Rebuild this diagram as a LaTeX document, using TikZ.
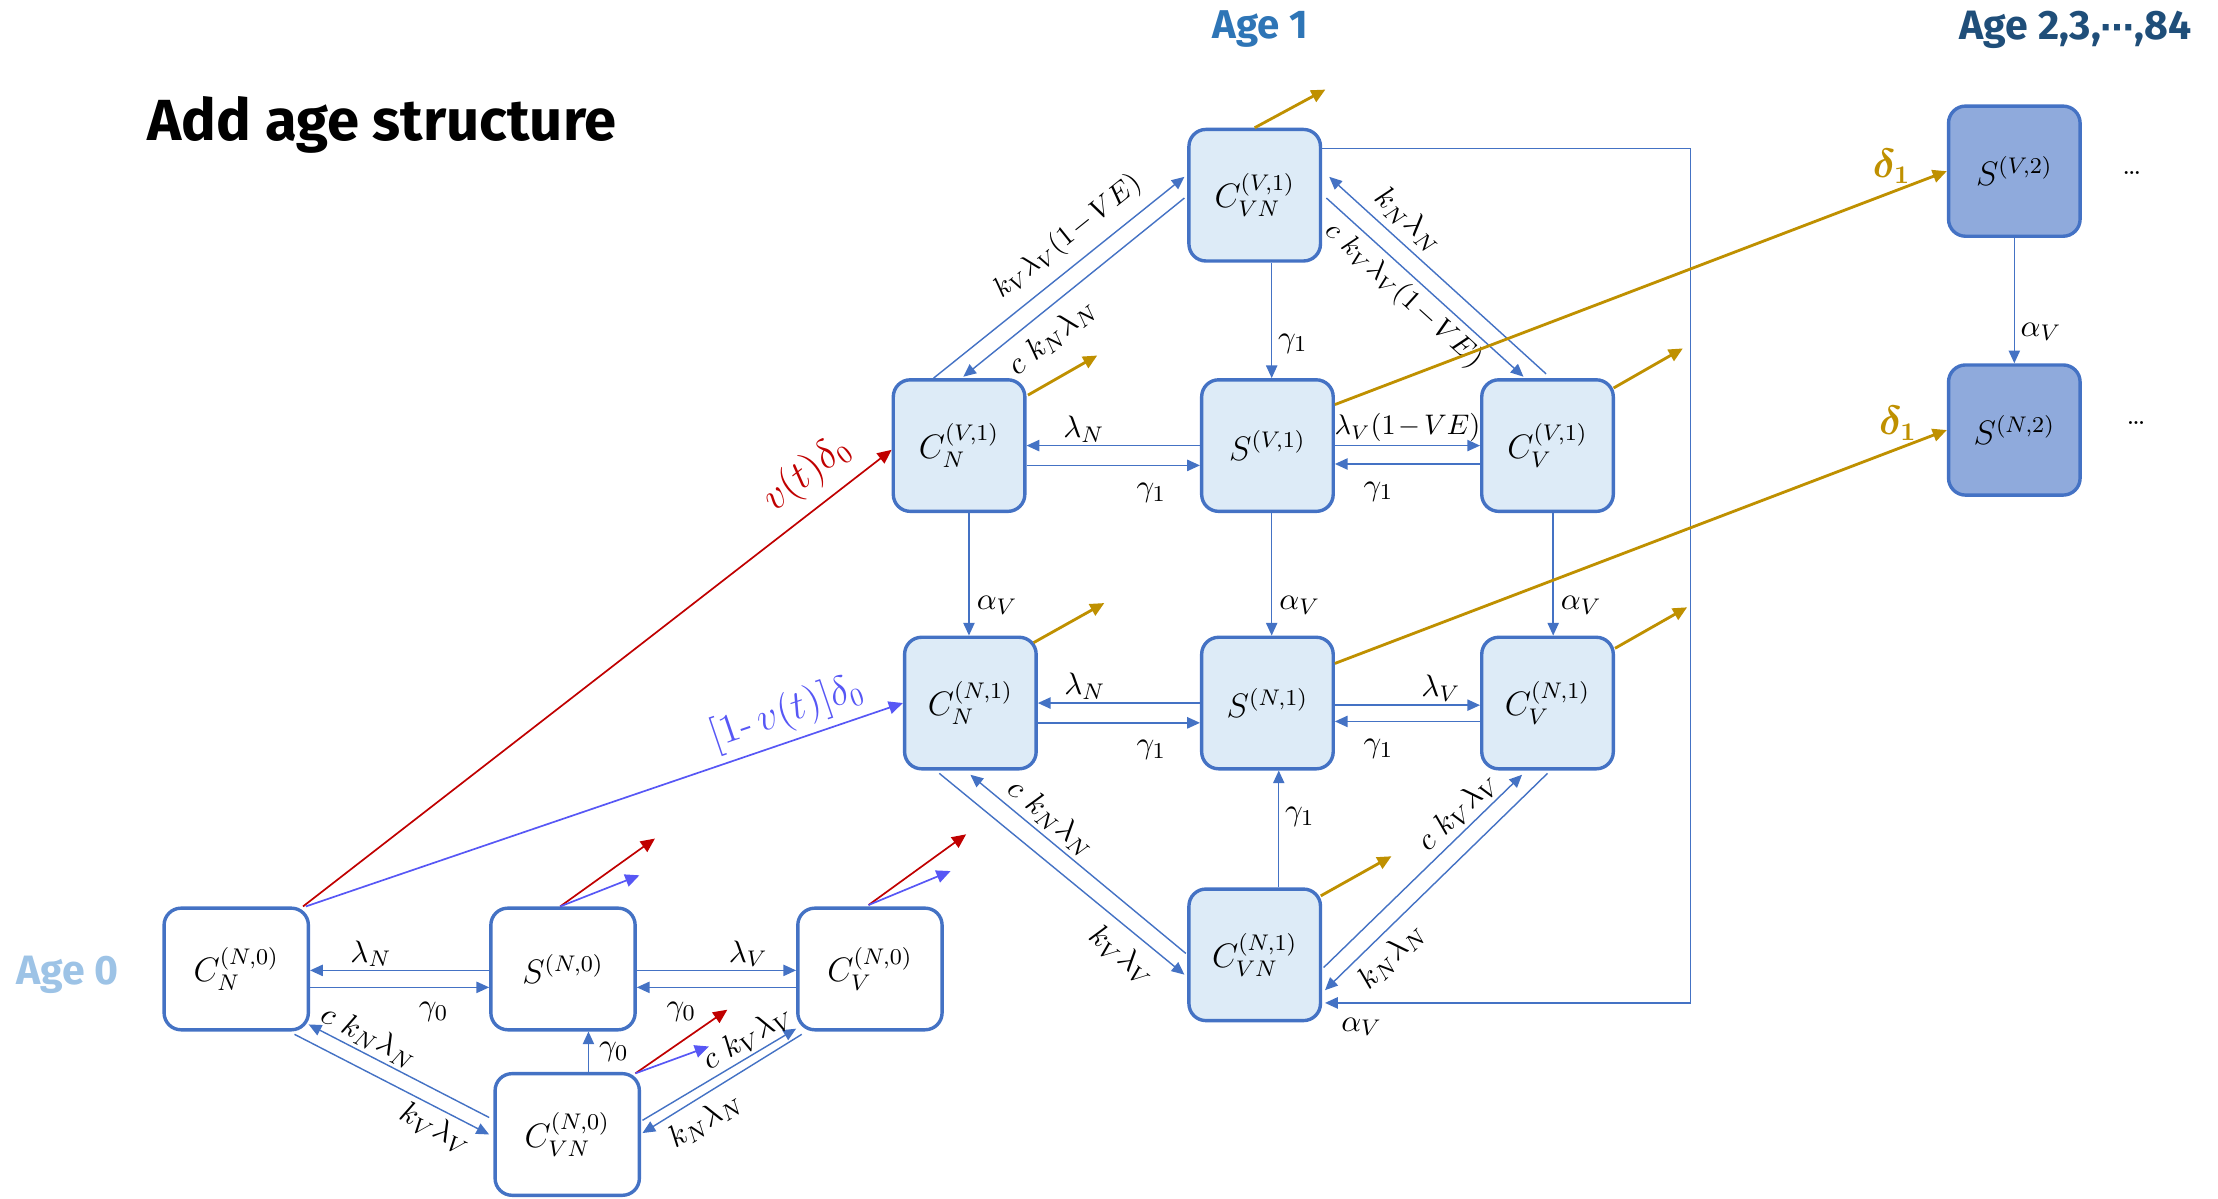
\documentclass[tikz,border=0pt]{standalone}
\usepackage{amsmath}
\usepackage{fontspec}
\newfontfamily\headfont{Fira Sans}
\newfontfamily\symfont{DejaVu Sans}
\usetikzlibrary{calc,arrows.meta}
\definecolor{bord}{HTML}{4472C4}
\definecolor{fillA}{HTML}{DDEBF7}
\definecolor{fillB}{HTML}{8FAADC}
\definecolor{gold}{HTML}{BF9000}
\definecolor{dred}{HTML}{C00000}
\definecolor{vblue}{HTML}{5757F5}
\definecolor{agezeroc}{HTML}{9DC3E6}
\definecolor{ageonec}{HTML}{2E75B6}
\definecolor{agetwoc}{HTML}{1F4E79}
\newcommand{\tmin}{\mkern-2mu-\mkern-2mu}
\begin{document}
\begin{tikzpicture}[x=0.5pt,y=-0.5pt,
  comp/.style={draw=bord, line width=1.2pt, rounded corners=6pt, minimum width=46.5pt, minimum height=46.5pt, inner sep=0pt, font=\fontsize{11.5}{13}\selectfont},
  agezero/.style={comp, fill=white, minimum width=51pt, minimum height=43pt},
  ageone/.style={comp, fill=fillA},
  agetwo/.style={comp, fill=fillB, minimum height=46pt},
  flow/.style={draw=bord, line width=0.5pt, -{Triangle[length=4.5pt,width=4pt]}},
  gflow/.style={draw=gold, line width=1pt, -{Triangle[length=5pt,width=4.5pt]}},
  rflow/.style={draw=dred, line width=0.6pt, -{Triangle[length=5pt,width=4.5pt]}},
  bflow/.style={draw=vblue, line width=0.6pt, -{Triangle[length=5pt,width=4.5pt]}},
  lab/.style={font=\fontsize{11}{12}\selectfont, inner sep=1pt},
  longlab/.style={font=\fontsize{10}{12}\selectfont, inner sep=1pt},
  biglab/.style={font=\fontsize{13.5}{15}\selectfont, inner sep=1pt},
  head/.style={anchor=base west, inner sep=0pt},
]
\useasboundingbox (0,0) rectangle (1568,847);

% titles
\node[head, font={\headfont\bfseries\fontsize{20.5}{24}\selectfont}] (title) at (104,99) {Add age structure};
\node[head, text=ageonec, font={\headfont\bfseries\fontsize{14.2}{16}\selectfont}] (ageone) at (857,27) {Age 1};
\node[head, text=agetwoc, font={\headfont\bfseries\fontsize{14.5}{17}\selectfont}] (agetwo) at (1385,28) {Age 2,3,{\symfont\bfseries\fontsize{12}{14}\selectfont ⋯},84};
\node[head, text=agezeroc, font={\headfont\bfseries\fontsize{14.5}{17}\selectfont}] (agezero) at (11,696) {Age 0};

% age 0 compartments
\node[agezero] (CN0) at (167,685) {$C_N^{(N,0)}$};
\node[agezero] (S0) at (398,685) {$S^{(N,0)}$};
\node[agezero] (CV0) at (615,685) {$C_V^{(N,0)}$};
\node[agezero] (CVN0) at (401,802) {$C_{VN}^{(N,0)}$};

% age 1 compartments
\node[ageone] (CVNV1) at (887,138) {$C_{VN}^{(V,1)}$};
\node[ageone] (CNV1) at (678,315) {$C_N^{(V,1)}$};
\node[ageone] (SV1) at (896,315) {$S^{(V,1)}$};
\node[ageone] (CVV1) at (1094,315) {$C_V^{(V,1)}$};
\node[ageone] (CNN1) at (686,497) {$C_N^{(N,1)}$};
\node[ageone] (SN1) at (896,497) {$S^{(N,1)}$};
\node[ageone] (CVN1) at (1094,497) {$C_V^{(N,1)}$};
\node[ageone] (CVNN1) at (887,675) {$C_{VN}^{(N,1)}$};

% age 2 compartments
\node[agetwo] (SV2) at (1424,121) {$S^{(V,2)}$};
\node[agetwo] (SN2) at (1424,304) {$S^{(N,2)}$};
\node[font=\fontsize{10}{11}\selectfont, inner sep=0pt] (dotsA) at (1507,122) {\ldots};
\node[font=\fontsize{10}{11}\selectfont, inner sep=0pt] (dotsB) at (1510,299) {\ldots};

% ---- age 0 flows
\draw[flow] ($(S0.west)+(0,1)$) -- ($(CN0.east)+(0,1)$) node[lab,pos=0.66,above]{$\lambda_N$};
\draw[flow] ($(CN0.east)+(0,13)$) -- ($(S0.west)+(0,13)$) node[lab,pos=0.69,below=4pt]{$\gamma_0$};
\draw[flow] ($(S0.east)+(0,1)$) -- ($(CV0.west)+(0,1)$) node[lab,pos=0.7,above]{$\lambda_V$};
\draw[flow] ($(CV0.west)+(0,13)$) -- ($(S0.east)+(0,13)$) node[lab,pos=0.72,below=4pt]{$\gamma_0$};
\draw[flow] ($(CVN0.north)+(15,0)$) -- ($(S0.south)+(18,0)$) node[lab,pos=0.5,right=2.5pt]{$\gamma_0$};
\draw[flow] ($(CN0.south east)+(-11,2)$) -- ($(CVN0.west)+(-3,0)$) node[lab,pos=0.77,below=1pt,sloped]{$k_V\lambda_V$};
\draw[flow] ($(CVN0.west)+(-3,-12)$) -- ($(CN0.south east)+(-1,-5)$) node[lab,pos=0.71,above,sloped]{$c\ k_N\lambda_N$};
\draw[flow] ($(CVN0.east)+(1,-10)$) -- ($(CV0.south west)+(0,-2)$) node[lab,pos=0.74,above,sloped]{$c\ k_V\lambda_V$};
\draw[flow] ($(CV0.south west)+(4,2)$) -- ($(CVN0.east)+(1,-1)$) node[lab,pos=0.68,below=2pt,sloped]{$k_N\lambda_N$};

% births into age 1
\draw[rflow] ($(CN0.north east)+(-5,0)$) -- ($(CNV1.west)+(0,3)$) node[biglab,pos=0.89,above=3pt,sloped,text=dred]{$v(t)\delta_0$};
\draw[bflow] ($(CN0.north east)+(-3,0)$) -- (CNN1.west) node[biglab,pos=0.82,above=1.5pt,sloped,text=vblue]{$[1$-$\,v(t)]\delta_0$};
\draw[rflow] ($(S0.north)+(-2,0)$) -- ++(67,-48);
\draw[bflow] ($(S0.north)+(-2,0)$) -- ++(56,-22);
\draw[rflow] ($(CV0.north)+(-1,-1)$) -- ++(69,-50);
\draw[bflow] ($(CV0.north)+(-1,-1)$) -- ++(58,-24);
\draw[rflow] ($(CVN0.north east)+(-4,1)$) -- ++(65,-45);
\draw[bflow] ($(CVN0.north east)+(-4,1)$) -- ++(52,-19);

% ---- age 1, vaccinated row
\draw[flow] ($(CNV1.north)+(-18,0)$) -- ($(CVNV1.west)+(-2,-13)$) node[longlab,pos=0.6,above=3pt,sloped]{$k_V\lambda_V(1\tmin VE)$};
\draw[flow] ($(CVNV1.west)+(-2,2)$) -- ($(CNV1.north)+(3,-1)$) node[lab,pos=0.67,below=3pt,sloped]{$c\ k_N\lambda_N$};
\draw[flow] ($(CVNV1.east)+(3,2)$) -- ($(CVV1.north)+(-17,-1)$) node[longlab,pos=0.46,below=1pt,sloped]{$c\ k_V\lambda_V(1\tmin VE)$};
\draw[flow] ($(CVV1.north)+(-1,-3)$) -- ($(CVNV1.east)+(5,-13)$) node[lab,pos=0.7,above=1.5pt,sloped]{$k_N\lambda_N$};
\draw[flow] ($(CVNV1.south)+(12,0)$) -- ($(SV1.north)+(3,0)$) node[lab,pos=0.7,right=1pt]{$\gamma_1$};
\draw[flow] (SV1.west) -- (CNV1.east) node[lab,pos=0.67,above]{$\lambda_N$};
\draw[flow] ($(CNV1.east)+(0,14)$) -- ($(SV1.west)+(0,14)$) node[lab,pos=0.72,below=5pt]{$\gamma_1$};
\draw[flow] (SV1.east) -- (CVV1.west) node[longlab,pos=0.5,above]{$\lambda_V(1\tmin VE)$};
\draw[flow] ($(CVV1.west)+(0,13)$) -- ($(SV1.east)+(0,13)$) node[lab,pos=0.7,below=5pt]{$\gamma_1$};

% waning alpha_V
\draw[flow] ($(CNV1.south)+(7,0)$) -- ($(CNN1.north)+(-1,0)$) node[lab,pos=0.75,right=1.5pt]{$\alpha_V$};
\draw[flow] ($(SV1.south)+(3,0)$) -- ($(SN1.north)+(3,0)$) node[lab,pos=0.75,right=1.5pt]{$\alpha_V$};
\draw[flow] ($(CVV1.south)+(4,0)$) -- ($(CVN1.north)+(4,0)$) node[lab,pos=0.75,right=1.5pt]{$\alpha_V$};
\coordinate (loopc) at (1195,105);
\draw[flow] ($(CVNV1.east)+(0,-33)$) -- (loopc) |- ($(CVNN1.east)+(2,34)$) node[lab,pos=0.95,below=4pt]{$\alpha_V$};

% ---- age 1, non-vaccinated row
\draw[flow] (SN1.west) -- (CNN1.east) node[lab,pos=0.71,above]{$\lambda_N$};
\draw[flow] ($(CNN1.east)+(0,14)$) -- ($(SN1.west)+(0,14)$) node[lab,pos=0.7,below=5pt]{$\gamma_1$};
\draw[flow] ($(SN1.east)+(0,1.5)$) -- ($(CVN1.west)+(0,1.5)$) node[lab,pos=0.73,above]{$\lambda_V$};
\draw[flow] ($(CVN1.west)+(0,13)$) -- ($(SN1.east)+(0,13)$) node[lab,pos=0.7,below=5pt]{$\gamma_1$};
\draw[flow] ($(CVNN1.north)+(17,0)$) -- ($(SN1.south)+(8,0)$) node[lab,pos=0.6,right=1pt]{$\gamma_1$};
\draw[flow] ($(CNN1.south)+(-22,2)$) -- ($(CVNN1.west)+(-2,14)$) node[lab,pos=0.81,below=3pt,sloped]{$k_V\lambda_V$};
\draw[flow] ($(CVNN1.west)+(-1,-1)$) -- ($(CNN1.south)+(0,3)$) node[lab,pos=0.68,above=0.5pt,sloped]{$c\ k_N\lambda_N$};
\draw[flow] ($(CVNN1.east)+(1,9)$) -- ($(CVN1.south)+(-18,3)$) node[lab,pos=0.74,above=0.5pt,sloped]{$c\ k_V\lambda_V$};
\draw[flow] ($(CVN1.south)+(0,2)$) -- ($(CVNN1.east)+(2,25)$) node[lab,pos=0.77,below=2pt,sloped]{$k_N\lambda_N$};

% ---- ageing out of age 1 (gold)
\draw[gflow] (CVNV1.north) -- ++(50,-27);
\draw[gflow] ($(CNV1.north east)+(1,12)$) -- ++(49,-28);
\draw[gflow] ($(CVV1.north east)+(-1,7)$) -- ++(49,-28);
\draw[gflow] ($(CNN1.north east)+(-3,5)$) -- ++(50,-28);
\draw[gflow] ($(CVN1.north east)+(0,9)$) -- ++(51,-29);
\draw[gflow] ($(CVNN1.north east)+(-1,6)$) -- ++(50,-28);
\draw[gflow] ($(SV1.east)+(0,-29)$) -- (SV2.west) node[biglab,pos=0.91,above=1.5pt,text=gold]{$\boldsymbol{\delta_1}$};
\draw[gflow] ($(SN1.east)+(0,-28)$) -- (SN2.west) node[biglab,pos=0.92,above=1.5pt,text=gold]{$\boldsymbol{\delta_1}$};

% ---- age 2
\draw[flow] (SV2.south) -- (SN2.north) node[lab,pos=0.75,right=1pt]{$\alpha_V$};
\end{tikzpicture}
\end{document}
